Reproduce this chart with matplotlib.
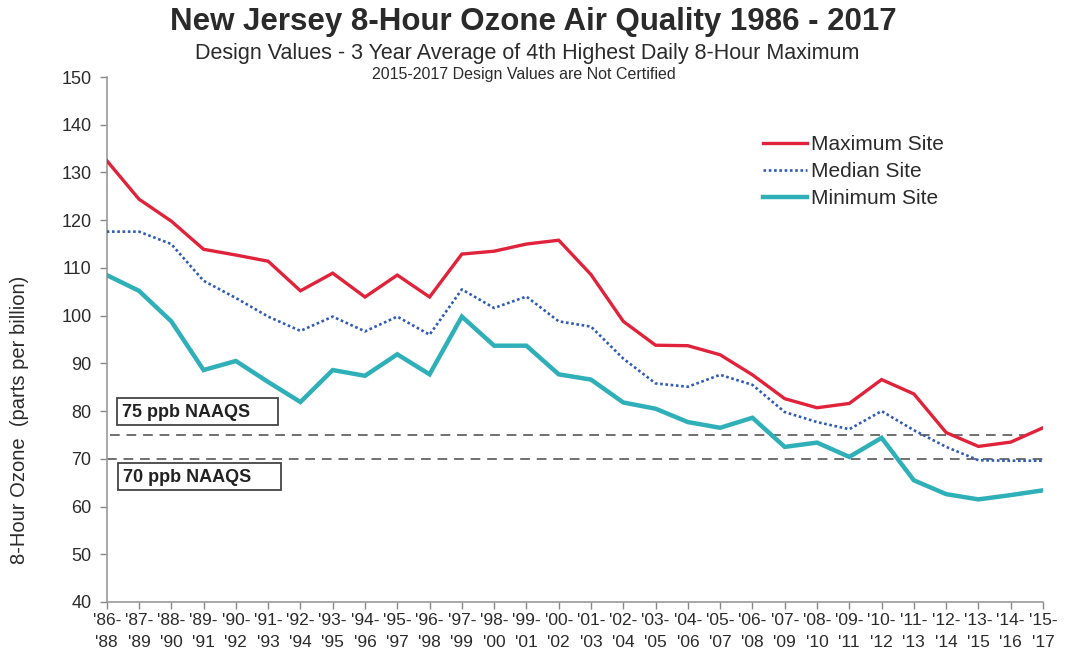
import matplotlib
matplotlib.use("Agg")
import matplotlib.pyplot as plt
from matplotlib.patches import Rectangle
from matplotlib.lines import Line2D

# ---------------- data ----------------
start_years = ["86", "87", "88", "89", "90", "91", "92", "93", "94", "95",
               "96", "97", "98", "99", "00", "01", "02", "03", "04", "05",
               "06", "07", "08", "09", "10", "11", "12", "13", "14", "15"]
end_years = ["88", "89", "90", "91", "92", "93", "94", "95", "96", "97",
             "98", "99", "00", "01", "02", "03", "04", "05", "06", "07",
             "08", "09", "10", "11", "12", "13", "14", "15", "16", "17"]
tick_labels = ["'%s-\n'%s" % (a, b) for a, b in zip(start_years, end_years)]

maximum_site = [132.5, 124.4, 119.8, 113.9, 112.7, 111.4, 105.2, 108.9, 103.9, 108.5,
                103.9, 112.9, 113.5, 115.0, 115.8, 108.6, 98.8, 93.8, 93.7, 91.8,
                87.6, 82.6, 80.7, 81.6, 86.6, 83.6, 75.5, 72.6, 73.5, 76.5]
median_site = [117.6, 117.6, 115.0, 107.3, 103.7, 99.8, 96.8, 99.8, 96.7, 99.8,
               96.0, 105.5, 101.6, 104.0, 98.8, 97.7, 91.0, 85.8, 85.1, 87.6,
               85.5, 79.8, 77.7, 76.2, 80.0, 76.0, 72.5, 69.7, 69.6, 69.6]
minimum_site = [108.5, 105.2, 98.8, 88.6, 90.5, 86.1, 81.9, 88.6, 87.4, 91.9,
                87.7, 99.8, 93.7, 93.7, 87.7, 86.6, 81.8, 80.5, 77.7, 76.5,
                78.6, 72.5, 73.4, 70.4, 74.4, 65.5, 62.6, 61.5, 62.4, 63.4]
naaqs_levels = [75, 70]
naaqs_labels = ["75 ppb NAAQS", "70 ppb NAAQS"]
y_ticks = [40, 50, 60, 70, 80, 90, 100, 110, 120, 130, 140, 150]

# ---------------- layout helpers ----------------
W, H = 1074, 658
def fx(px):
    return px / W
def fy(py):
    return 1 - py / H

plt.rcParams['font.family'] = ['Liberation Sans', 'DejaVu Sans']
TXT = '#2b2b2b'

fig = plt.figure(figsize=(W / 100, H / 100), dpi=100)
ax = fig.add_axes([fx(106.7), fy(602), fx(1043) - fx(106.7), fy(77) - fy(602)])

x = list(range(len(tick_labels)))
red = '#e0223a'
blue = '#2f5cb8'
teal = '#2fb0b8'

ax.plot(x, maximum_site, color=red, lw=2.4, solid_joinstyle='miter', zorder=4)
ax.plot(x, median_site, color=blue, lw=1.9, linestyle=(0, (1.0, 1.0)), zorder=4)
ax.plot(x, minimum_site, color=teal, lw=3.2, solid_joinstyle='miter', zorder=3)

# NAAQS dashed lines
ax.hlines(naaqs_levels[0], 0.1, 28.6, colors='#707070', linestyles=(0, (5, 3.5)), lw=1.4, zorder=2)
ax.hlines(naaqs_levels[1], 0.0, 29.0, colors='#707070', linestyles=(0, (5, 3.5)), lw=1.4, zorder=2)

ax.set_xlim(0, len(x) - 1)
ax.set_ylim(40, 150)
ax.set_yticks(y_ticks)
ax.set_xticks(x)
ax.set_xticklabels(tick_labels, fontsize=12.5, color=TXT, linespacing=1.6)
ax.tick_params(axis='y', labelsize=13, labelcolor=TXT, direction='out', length=5,
               color='#888888', width=1, pad=6)
ax.tick_params(axis='x', direction='out', length=5, color='#888888', width=1, pad=3)

for s in ['top', 'right']:
    ax.spines[s].set_visible(False)
for s in ['left', 'bottom']:
    ax.spines[s].set_color('#999999')
    ax.spines[s].set_linewidth(1.2)

# NAAQS label boxes (figure-pixel placement)
boxes = [(117, 398, 278, 425), (118, 463, 281, 490)]
for (x0, y0, x1, y1), lab in zip(boxes, naaqs_labels):
    fig.patches.append(Rectangle((fx(x0), fy(y1)), fx(x1) - fx(x0), fy(y0) - fy(y1),
                                 transform=fig.transFigure, fill=True, facecolor='white',
                                 edgecolor='#444444', lw=1.3, zorder=5))
    fig.text(fx(x0 + 5), fy((y0 + y1) / 2 + 1), lab, fontsize=13, fontweight='bold',
             color='#222222', ha='left', va='center', zorder=6)

# Legend
handles = [Line2D([], [], color=red, lw=2.4),
           Line2D([], [], color=blue, lw=1.9, linestyle=(0, (1.0, 1.0))),
           Line2D([], [], color=teal, lw=3.2)]
leg = fig.legend(handles, ['Maximum Site', 'Median Site', 'Minimum Site'],
                 loc='upper left', bbox_to_anchor=(fx(753), fy(125)),
                 frameon=False, fontsize=15, handlelength=2.1, handletextpad=0.2,
                 labelspacing=0.38, borderpad=0)
for t in leg.get_texts():
    t.set_color(TXT)

# Titles
fig.text(fx(533), fy(22), 'New Jersey 8-Hour Ozone Air Quality 1986 - 2017',
         fontsize=22.5, fontweight='bold', color='#2a2a2a', ha='center', va='center')
fig.text(fx(527), fy(54), 'Design Values - 3 Year Average of 4th Highest Daily 8-Hour Maximum',
         fontsize=15.5, color=TXT, ha='center', va='center')
fig.text(fx(524), fy(75), '2015-2017 Design Values are Not Certified',
         fontsize=11.5, color=TXT, ha='center', va='center')

# Y label
fig.text(fx(20), fy(420), '8-Hour Ozone  (parts per billion)', rotation=90,
         fontsize=14.5, color=TXT, ha='center', va='center')

fig.savefig('out.png', dpi=100, facecolor='white')
